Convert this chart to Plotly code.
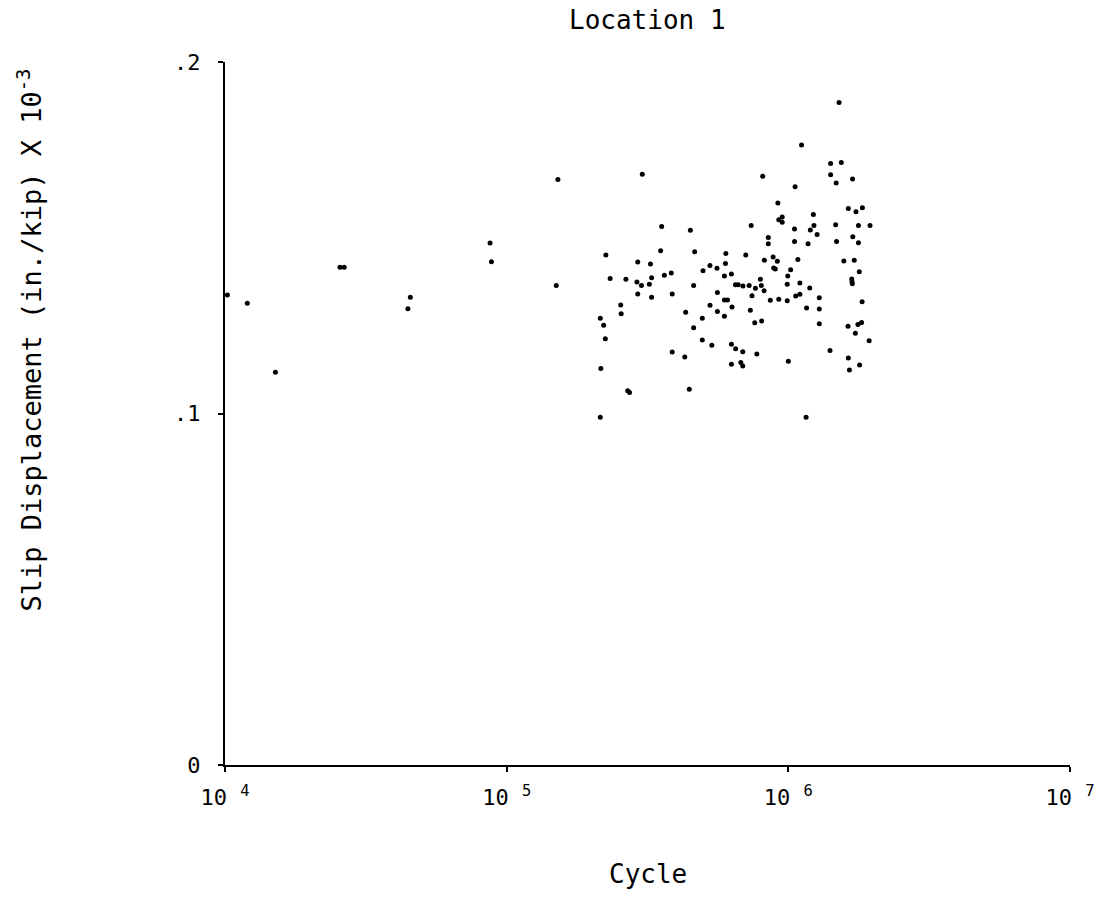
import plotly.graph_objects as go

# Slip displacement readings at Location 1 versus load cycles
cycles = [
    10200, 12000, 15100, 25600, 26500, 45500, 44600, 87300, 88300,
    152000, 303000, 355000, 449000, 225000, 352000, 465000, 292000, 324000,
    527000, 558000, 498000, 233000, 265000, 327000, 363000, 384000, 290000,
    301000, 321000, 461000, 150000, 292000, 327000, 387000, 560000, 254000,
    255000, 527000, 560000, 432000, 215000, 221000, 224000, 495000, 461000,
    495000, 535000, 387000, 429000, 216000, 269000, 273000, 445000, 215000,
    1514000, 1114000, 1413000, 1542000, 811000, 1057000, 1413000, 1479000,
    1690000, 918000, 925000, 951000, 951000, 738000, 1227000, 1052000,
    1197000, 1233000, 1265000, 849000, 849000, 1052000, 1175000, 1633000,
    1738000, 1832000, 1472000, 1774000, 1950000, 1483000, 1694000, 1774000,
    600000, 706000, 822000, 883000, 914000, 887000, 899000, 1081000,
    1574000, 1714000, 598000, 593000, 628000, 1019000, 995000, 1786000,
    1679000, 1683000, 1687000, 796000, 649000, 664000, 690000, 726000,
    764000, 802000, 820000, 991000, 1099000, 1191000, 743000, 593000,
    608000, 863000, 925000, 991000, 1062000, 1099000, 1288000, 1828000,
    631000, 593000, 733000, 1161000, 1288000, 760000, 804000, 1288000,
    1629000, 1766000, 1820000, 1730000, 1936000, 628000, 650000, 689000,
    773000, 628000, 678000, 689000, 1000000, 1406000, 1633000, 1648000,
    1791000, 1156000,
]

slip = [
    0.1337, 0.1314, 0.1117, 0.1416, 0.1416, 0.1331, 0.1298, 0.1485, 0.1432,
    0.1666, 0.1681, 0.1532, 0.1521, 0.1451, 0.1463, 0.1460, 0.1431, 0.1425,
    0.1421, 0.1413, 0.1406, 0.1384, 0.1382, 0.1386, 0.1393, 0.1400, 0.1374,
    0.1364, 0.1368, 0.1364, 0.1364, 0.1340, 0.1331, 0.1340, 0.1344, 0.1309,
    0.1284, 0.1308, 0.1290, 0.1288, 0.1271, 0.1251, 0.1213, 0.1271, 0.1244,
    0.1209, 0.1194, 0.1175, 0.1161, 0.1128, 0.1065, 0.1060, 0.1069, 0.0989,
    0.1885, 0.1764, 0.1711, 0.1714, 0.1675, 0.1645, 0.1679, 0.1656,
    0.1667, 0.1599, 0.1551, 0.1559, 0.1544, 0.1535, 0.1566, 0.1525,
    0.1522, 0.1535, 0.1509, 0.1501, 0.1483, 0.1489, 0.1483, 0.1583,
    0.1574, 0.1585, 0.1537, 0.1535, 0.1535, 0.1489, 0.1503, 0.1486,
    0.1455, 0.1451, 0.1436, 0.1445, 0.1433, 0.1414, 0.1411, 0.1438,
    0.1434, 0.1436, 0.1427, 0.1391, 0.1397, 0.1409, 0.1391, 0.1403,
    0.1383, 0.1375, 0.1369, 0.1382, 0.1366, 0.1366, 0.1363, 0.1364,
    0.1356, 0.1364, 0.1349, 0.1368, 0.1371, 0.1357, 0.1335, 0.1323,
    0.1323, 0.1322, 0.1325, 0.1321, 0.1334, 0.1339, 0.1329, 0.1318,
    0.1303, 0.1277, 0.1294, 0.1300, 0.1297, 0.1258, 0.1263, 0.1255,
    0.1248, 0.1253, 0.1259, 0.1228, 0.1207, 0.1197, 0.1184, 0.1176,
    0.1169, 0.1140, 0.1145, 0.1135, 0.1149, 0.1179, 0.1158, 0.1124,
    0.1138, 0.0989,
]

x_tick_vals = [1e4, 1e5, 1e6, 1e7]
x_tick_text = ["10 <sup>4</sup>", "10 <sup>5</sup>", "10 <sup>6</sup>", "10 <sup>7</sup>"]
y_tick_vals = [0, 0.1, 0.2]
y_tick_text = ["0", ".1", ".2"]

FONT = "DejaVu Sans Mono"

fig = go.Figure(
    go.Scatter(
        x=cycles,
        y=slip,
        mode="markers",
        marker=dict(size=5, color="black"),
        cliponaxis=False,
        showlegend=False,
    )
)

fig.update_layout(
    width=1112,
    height=898,
    margin=dict(l=225, r=42, t=62, b=133),
    paper_bgcolor="white",
    plot_bgcolor="white",
    font=dict(family=FONT, size=22, color="black"),
    annotations=[
        dict(text="Location 1", xref="paper", yref="paper", x=0.5, y=1.06,
             xanchor="center", yanchor="middle", showarrow=False,
             font=dict(family=FONT, size=26)),
        dict(text="Cycle", xref="paper", yref="paper", x=0.5, y=-0.155,
             xanchor="center", yanchor="middle", showarrow=False,
             font=dict(family=FONT, size=26)),
        dict(text="Slip Displacement (in./kip) X 10<sup>-3</sup>",
             xref="paper", yref="paper", x=-0.231, y=0.605, textangle=-90,
             xanchor="center", yanchor="middle", showarrow=False,
             font=dict(family=FONT, size=27)),
    ],
)

fig.update_xaxes(
    type="log",
    range=[4, 7],
    tickvals=x_tick_vals,
    ticktext=x_tick_text,
    showline=True,
    linecolor="black",
    linewidth=2,
    ticks="outside",
    ticklen=5,
    tickwidth=1.5,
    tickcolor="black",
    showgrid=False,
    zeroline=False,
    ticklabelstandoff=7,
    tickfont=dict(family=FONT, size=22),
)

fig.update_yaxes(
    range=[0, 0.2],
    tickvals=y_tick_vals,
    ticktext=y_tick_text,
    showline=True,
    linecolor="black",
    linewidth=2,
    ticks="outside",
    ticklen=5,
    tickwidth=1.5,
    tickcolor="black",
    showgrid=False,
    zeroline=False,
    ticklabelstandoff=13,
    tickfont=dict(family=FONT, size=22),
)

fig.write_html("out.html")
